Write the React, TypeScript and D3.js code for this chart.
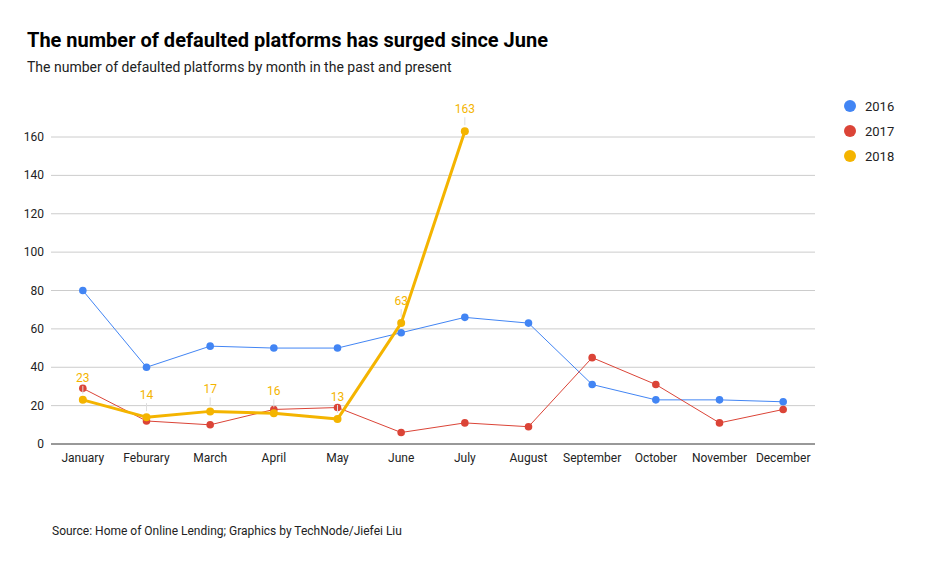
import { useRef, useEffect } from "react";
import * as d3 from "d3";

const months = ["January", "Feburary", "March", "April", "May", "June", "July", "August", "September", "October", "November", "December"];
const values2016 = [80, 40, 51, 50, 50, 58, 66, 63, 31, 23, 23, 22];
const values2017 = [29, 12, 10, 18, 19, 6, 11, 9, 45, 31, 11, 18];
const values2018 = [23, 14, 17, 16, 13, 63, 163];
const yTicks = [0, 20, 40, 60, 80, 100, 120, 140, 160];

const seriesList = [
  { name: "2016", values: values2016, color: "#4285F4", width: 1, r: 3.8, labels: false },
  { name: "2017", values: values2017, color: "#DB4437", width: 1, r: 3.8, labels: false },
  { name: "2018", values: values2018, color: "#F4B400", width: 3, r: 4, labels: true },
];

const W = 931;
const H = 576;
const FONT = "Roboto, 'Noto Sans', sans-serif";

export default function App() {
  const svgRef = useRef<SVGSVGElement>(null);

  useEffect(() => {
    if (!svgRef.current) return;
    const root = d3.select(svgRef.current);
    root.selectAll("*").remove();

    const left = 51, right = 815, top = 137, bottom = 444;

    const x = d3.scaleBand<string>().domain(months).range([left, right]);
    const y = d3.scaleLinear().domain([0, 160]).range([bottom, top]);
    const cx = (i: number) => (x(months[i]) as number) + x.bandwidth() / 2;

    root.append("rect").attr("width", W).attr("height", H).attr("fill", "#fff");

    // title
    root.append("text").attr("x", 27).attr("y", 47)
      .style("font-family", FONT).style("font-size", "20px").style("font-weight", "bold")
      .attr("fill", "#000").text("The number of defaulted platforms has surged since June");
    root.append("text").attr("x", 27).attr("y", 72)
      .style("font-family", FONT).style("font-size", "14px")
      .attr("fill", "#222").text("The number of defaulted platforms by month in the past and present");

    // grid
    const grid = root.append("g");
    yTicks.forEach(t => {
      grid.append("line").attr("x1", left).attr("x2", right)
        .attr("y1", y(t)).attr("y2", y(t))
        .attr("stroke", t === 0 ? "#333" : "#ccc").attr("stroke-width", 1);
      grid.append("text").attr("x", 44).attr("y", y(t) + 4)
        .attr("text-anchor", "end")
        .style("font-family", FONT).style("font-size", "12px").attr("fill", "#222")
        .text(t);
    });

    // x labels
    months.forEach((m, i) => {
      root.append("text").attr("x", cx(i)).attr("y", 462)
        .attr("text-anchor", "middle")
        .style("font-family", FONT).style("font-size", "12px").attr("fill", "#222")
        .text(m);
    });

    const line = d3.line<number>().x((_, i) => cx(i)).y(d => y(d));

    seriesList.forEach(s => {
      const g = root.append("g");
      g.append("path").datum(s.values).attr("d", line)
        .attr("fill", "none").attr("stroke", s.color).attr("stroke-width", s.width)
        .attr("stroke-linejoin", "round");
      s.values.forEach((v, i) => {
        g.append("circle").attr("cx", cx(i)).attr("cy", y(v)).attr("r", s.r).attr("fill", s.color);
      });
    });

    // data labels for 2018
    const s18 = seriesList[2];
    s18.values.forEach((v, i) => {
      root.append("line").attr("x1", cx(i)).attr("x2", cx(i))
        .attr("y1", y(v) - 6).attr("y2", y(v) - 14)
        .attr("stroke", "#ddd").attr("stroke-width", 1);
      root.append("text").attr("x", cx(i)).attr("y", y(v) - 18)
        .attr("text-anchor", "middle")
        .style("font-family", FONT).style("font-size", "12px").attr("fill", s18.color)
        .text(v);
    });

    // legend
    seriesList.forEach((s, i) => {
      root.append("circle").attr("cx", 850).attr("cy", 106 + i * 25).attr("r", 6).attr("fill", s.color);
      root.append("text").attr("x", 865).attr("y", 111 + i * 25)
        .style("font-family", FONT).style("font-size", "13px").attr("fill", "#222")
        .text(s.name);
    });

    root.append("text").attr("x", 52).attr("y", 535)
      .style("font-family", FONT).style("font-size", "12px").attr("fill", "#222")
      .text("Source: Home of Online Lending; Graphics by TechNode/Jiefei Liu");
  }, []);

  return (
    <svg ref={svgRef} width={W} height={H}
      style={{ position: "absolute", left: 0, top: 0, display: "block" }} />
  );
}
